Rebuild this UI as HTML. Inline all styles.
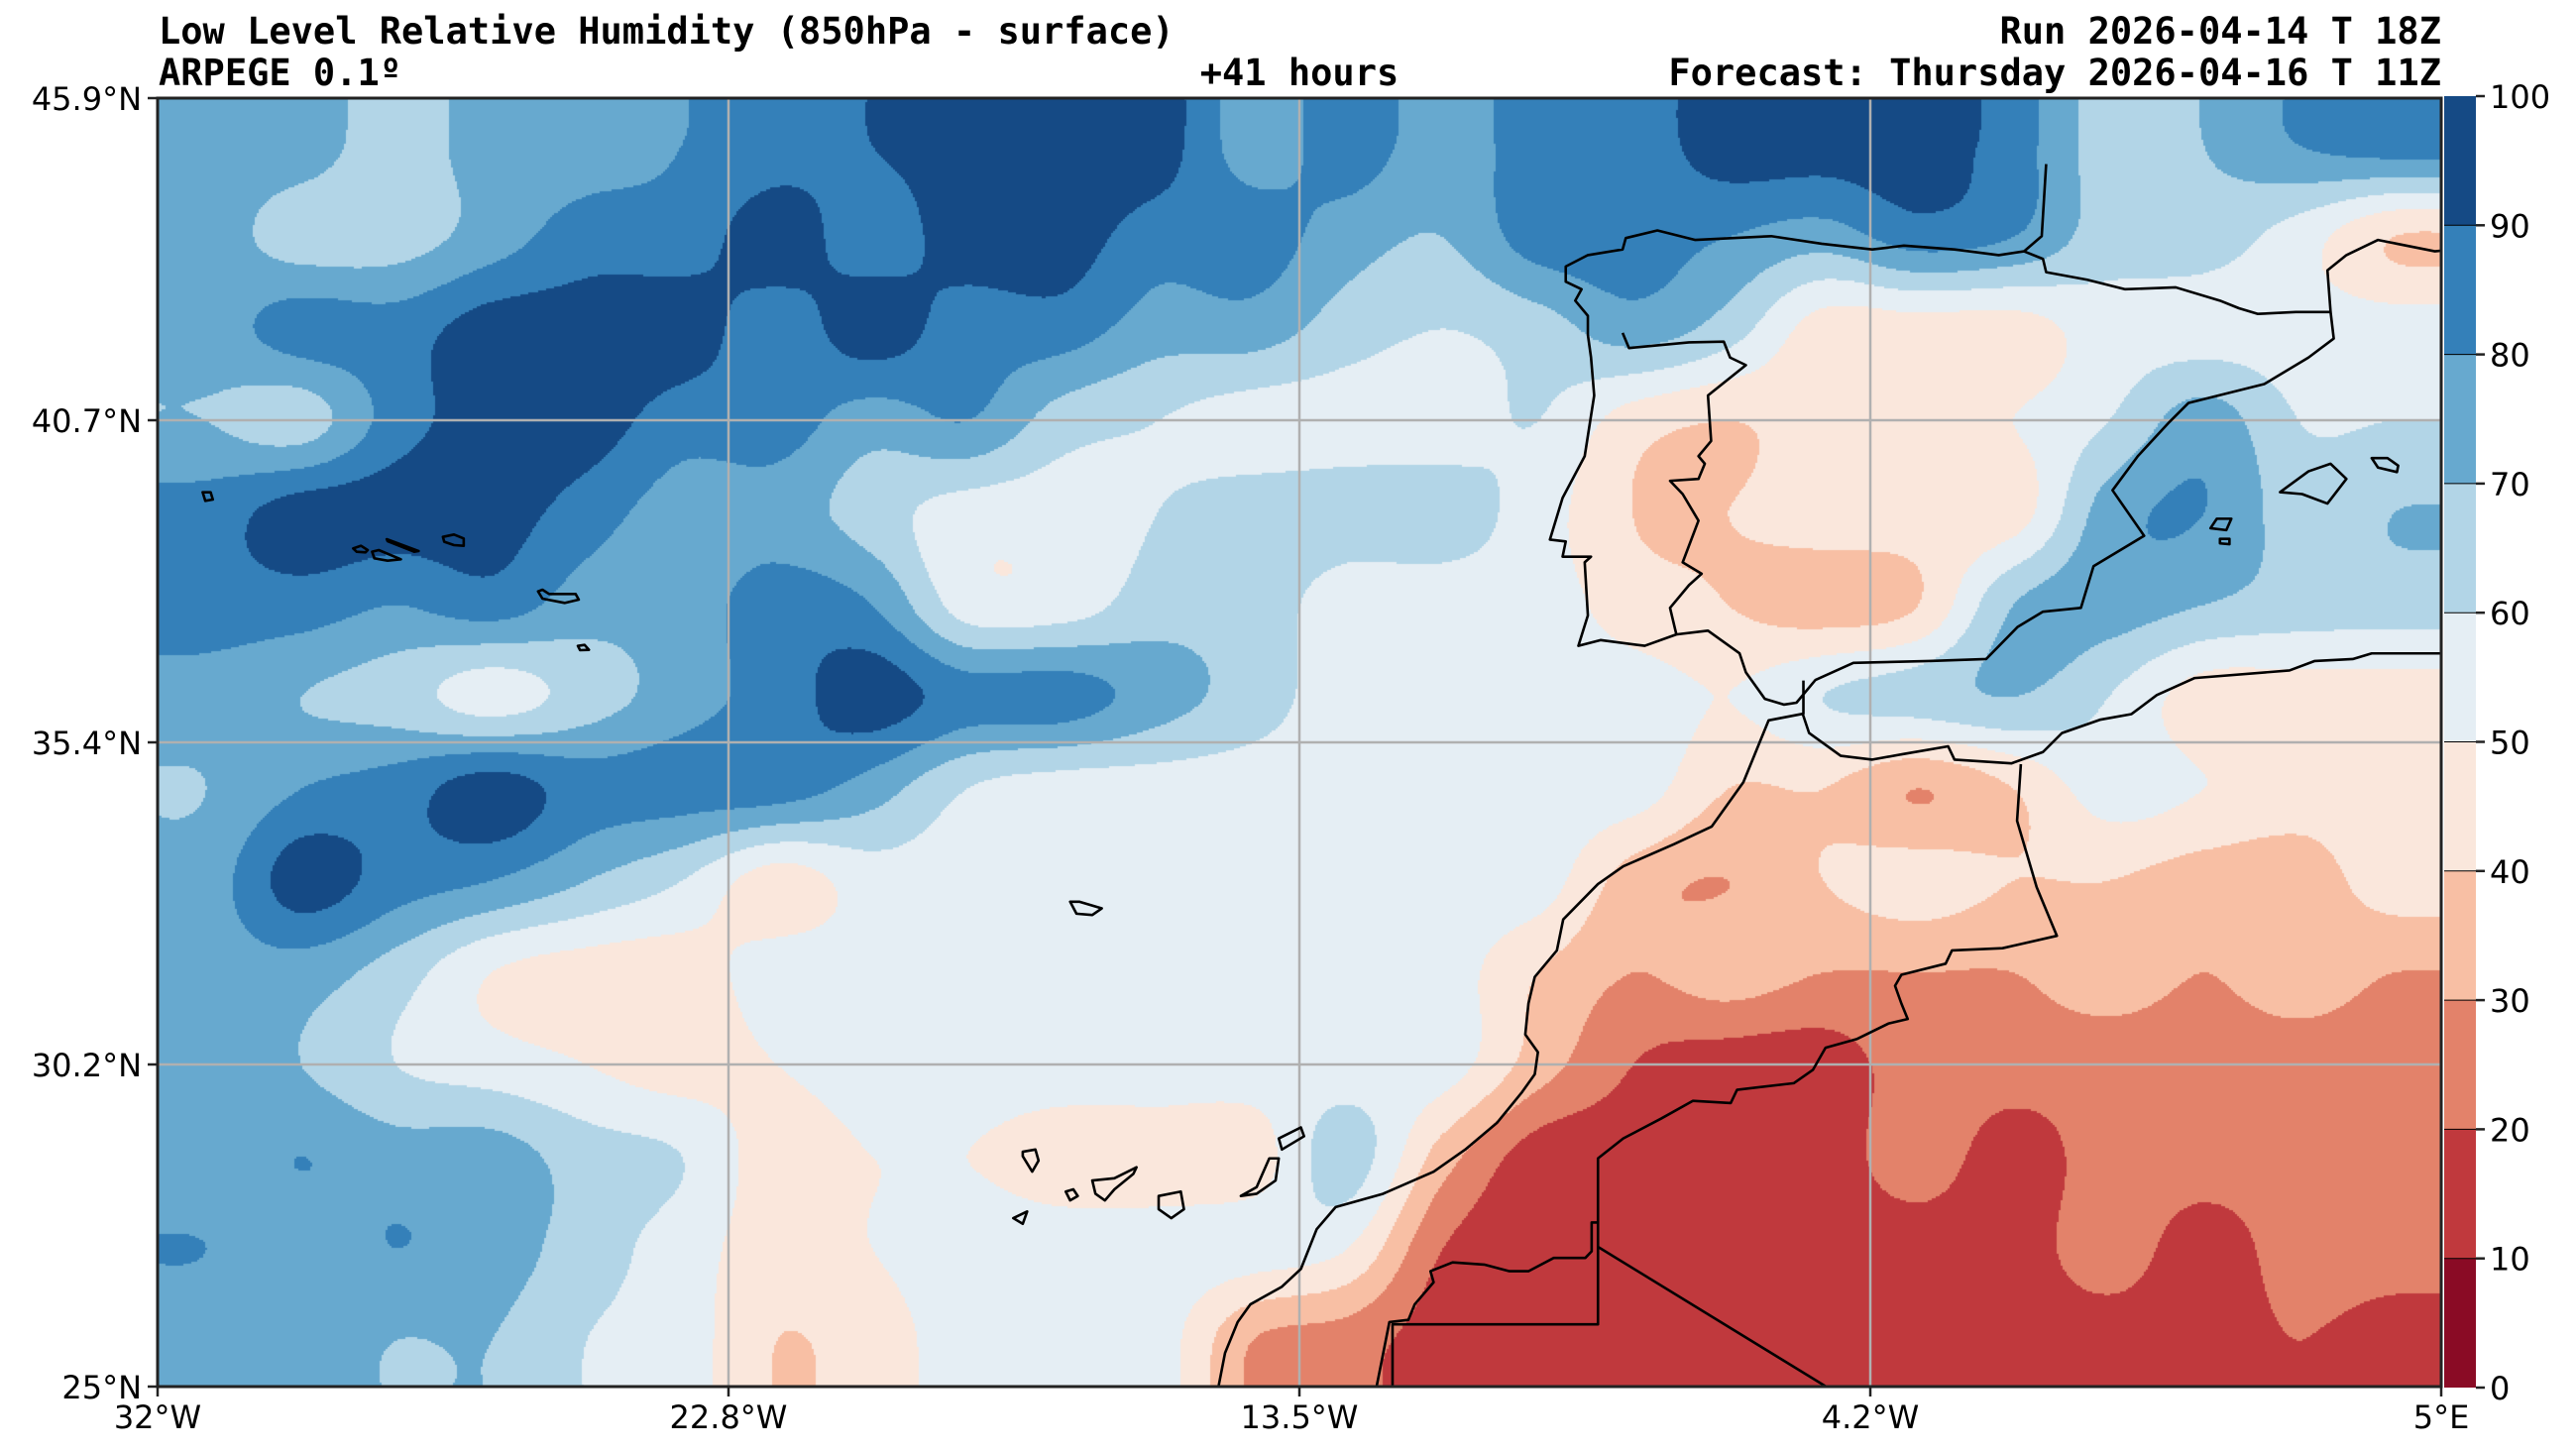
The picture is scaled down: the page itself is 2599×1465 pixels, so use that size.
<!DOCTYPE html>
<html><head><meta charset="utf-8">
<style>
html,body{margin:0;padding:0;background:#fff;}
#wrap{position:relative;width:2599px;height:1465px;overflow:hidden;background:#fff;}
.t{position:absolute;font-family:"DejaVu Sans Mono","Liberation Mono",monospace;font-weight:bold;font-size:37px;color:#000;white-space:nowrap;line-height:1;}
#map{position:absolute;left:159px;top:99px;}
svg{position:absolute;left:0;top:0;}
</style></head>
<body>
<div id="wrap">
<div class="t" style="left:160px;top:13px;">Low Level Relative Humidity (850hPa - surface)</div>
<div class="t" style="left:160px;top:55px;">ARPEGE 0.1º</div>
<div class="t" style="left:1311px;top:55px;transform:translateX(-50%);">+41 hours</div>
<div class="t" style="right:136px;top:13px;">Run 2026-04-14 T 18Z</div>
<div class="t" style="right:136px;top:55px;">Forecast: Thursday 2026-04-16 T 11Z</div>
<canvas id="map" width="2304" height="1300"></canvas>
<svg id="ov" width="2599" height="1465"></svg>
</div>
<script>
// Relative humidity (%) sampled on a coarse grid (rows north->south, cols west->east)
const rhRow0=[75,75,65,75,75,80,85,90,95,95,95,75,85,75,85,85,95,95,95,85,65,70,80,85];
const rhRow1=[75,65,65,75,85,85,95,85,95,95,85,85,75,70,85,85,80,75,85,80,65,65,55,40];
const rhRow2=[75,85,85,95,95,95,85,95,85,85,75,75,65,60,65,75,65,45,45,45,55,55,55,55];
const rhRow3=[70,65,85,95,95,85,85,75,80,65,60,55,55,55,60,45,40,45,45,50,60,75,60,60];
const rhRow4=[85,95,95,95,85,75,75,65,55,55,60,65,65,65,55,40,40,45,45,45,75,80,65,70];
const rhRow5=[85,85,80,85,75,75,85,80,55,55,65,65,55,55,55,45,40,35,40,70,75,70,65,65];
const rhRow6=[75,70,65,55,65,75,85,95,85,85,75,65,55,55,55,55,50,60,65,70,60,45,45,45];
const rhRow7=[70,80,85,95,85,85,85,75,60,55,55,55,55,55,55,55,40,40,30,40,55,50,45,45];
const rhRow8=[75,95,85,80,70,60,45,55,55,55,55,55,55,55,55,35,30,40,45,40,40,35,35,45];
const rhRow9=[75,75,65,50,45,45,55,55,55,55,55,55,55,55,40,30,35,30,30,30,35,30,35,30];
const rhRow10=[75,70,60,55,50,45,50,55,55,55,55,55,55,55,35,20,15,15,25,25,25,25,25,25];
const rhRow11=[75,80,75,75,65,60,45,50,50,45,45,45,65,35,15,15,15,15,25,15,25,25,25,25];
const rhRow12=[80,75,80,75,65,55,45,50,55,55,55,55,50,20,15,15,15,15,15,15,25,15,25,25];
const rhRow13=[75,75,70,70,60,55,40,45,55,55,55,30,25,15,15,15,15,15,15,15,15,15,20,15];
const rhGrid=[rhRow0,rhRow1,rhRow2,rhRow3,rhRow4,rhRow5,rhRow6,rhRow7,rhRow8,rhRow9,rhRow10,rhRow11,rhRow12,rhRow13];
const levels=[0,10,20,30,40,50,60,70,80,90,100];
const bandColors=["#8a0b25","#c0393d","#e3826a","#f8bfa4","#fae7dc","#e5eef4","#b2d5e7","#67a9cf","#3480b9","#154a85"];
const lonTicks=["32°W","22.8°W","13.5°W","4.2°W","5°E"];
const latTicks=["45.9°N","40.7°N","35.4°N","30.2°N","25°N"];

const MX=159,MY=99,MW=2304,MH=1300;
const NS="http://www.w3.org/2000/svg";
function rgb(h){return [parseInt(h.substr(1,2),16),parseInt(h.substr(3,2),16),parseInt(h.substr(5,2),16)];}
const bandRGB=bandColors.map(rgb);
function cr(p0,p1,p2,p3,t){return 0.5*((2*p1)+(-p0+p2)*t+(2*p0-5*p1+4*p2-p3)*t*t+(-p0+3*p1-3*p2+p3)*t*t*t);}
function gv(i,j){const R=rhGrid.length,C=rhGrid[0].length;i=Math.max(0,Math.min(C-1,i));j=Math.max(0,Math.min(R-1,j));return rhGrid[j][i];}
function field(gi,gj){
  const i=Math.floor(gi),j=Math.floor(gj);const fx=gi-i,fy=gj-j;
  const rows=[];
  for(let m=-1;m<=2;m++){rows.push(cr(gv(i-1,j+m),gv(i,j+m),gv(i+1,j+m),gv(i+2,j+m),fx));}
  return cr(rows[0],rows[1],rows[2],rows[3],fy);
}
(function(){
  const cv=document.getElementById('map');const ctx=cv.getContext('2d');
  const img=ctx.createImageData(MW,MH);const S=2;
  for(let py=0;py<MH;py+=S){
    const yd=59+py*786/MH;const gj=(yd-87)/56.1;
    for(let px=0;px<MW;px+=S){
      const xd=96+px*1390/MW;const gi=(xd-125)/57.9;
      let v=field(gi,gj);
      let k=Math.floor(v/10);k=Math.max(0,Math.min(9,k));
      const c=bandRGB[k];
      for(let yy=0;yy<S;yy++)for(let xx=0;xx<S;xx++){
        const o=((py+yy)*MW+(px+xx))*4;img.data[o]=c[0];img.data[o+1]=c[1];img.data[o+2]=c[2];img.data[o+3]=255;}
    }
  }
  ctx.putImageData(img,0,0);
})();

const ov=document.getElementById('ov');
function mk(tag,attrs,parent){const e=document.createElementNS(NS,tag);for(const k in attrs)e.setAttribute(k,attrs[k]);(parent||ov).appendChild(e);return e;}
function lonX(i){return MX+i*MW/4;}
function latY(i){return MY+i*MH/4;}
for(let i=1;i<4;i++){
  const g1=mk('line',{x1:lonX(i),y1:MY,x2:lonX(i),y2:MY+MH,stroke:'#b0b0b0','stroke-width':2.5});
  
  
  const g2=mk('line',{x1:MX,y1:latY(i),x2:MX+MW,y2:latY(i),stroke:'#b0b0b0','stroke-width':2.5});
  
  
}
function frame(tx,ty,sx,sy,name){const g=mk('g',{transform:`translate(${tx},${ty}) scale(${sx},${sy})`});return g;}
function path(g,pts,closed,name){
  const d='M'+pts.map(p=>p.join(',')).join(' L')+(closed?' Z':'');
  const p=mk('path',{d:d,fill:'none',stroke:'#000','stroke-width':2.6,'vector-effect':'non-scaling-stroke','stroke-linejoin':'round'},g);
  
  
}
const clip=mk('clipPath',{id:'mc'});mk('rect',{x:MX,y:MY,width:MW,height:MH},clip);
const root=mk('g',{'clip-path':'url(#mc)'});
const gI=frame(1500,200,1/1.568,1/2.613,'iberia-coast');root.appendChild(gI);
path(gI,[[885,-90],[878,100],[850,140],[810,150],[740,135],[660,125],[610,135],[530,120],[450,100],[330,110],[270,85],[220,105],[215,135],[160,150],[125,180],[125,220],[150,240],[140,270],[160,310],[160,360],[165,420],[170,520],[155,680],[120,790],[100,900],[125,905],[120,945],[165,945],[155,960],[160,1100],[145,1180],[180,1165],[250,1180],[300,1150],[350,1140],[400,1200],[410,1250],[440,1320],[470,1335],[490,1330],[520,1270],[580,1225],[700,1220],[790,1215],[840,1130],[880,1090],[940,1080],[960,970],[1040,890],[990,770],[1030,680],[1080,590],[1110,540],[1230,490],[1300,420],[1340,370],[1335,300],[1330,190],[1360,150],[1410,110],[1440,120],[1500,140],[1560,130]],false,'iberia-coastline');
path(gI,[[850,140],[880,160],[885,195],[950,215],[1010,240],[1090,235],[1160,270],[1190,290],[1220,305],[1280,300],[1335,300]],false,'pyrenees-border');
path(gI,[[215,355],[225,395],[320,380],[375,378],[385,420],[410,440],[350,520],[355,640],[335,680],[345,700],[335,740],[290,745],[310,780],[335,850],[310,960],[340,990],[320,1020],[290,1080],[300,1150]],false,'portugal-spain-border');
path(gI,[[1255,775],[1300,720],[1335,700],[1360,740],[1330,805],[1290,780]],true,'mallorca');
path(gI,[[1400,685],[1425,685],[1442,705],[1440,722],[1410,710]],true,'menorca');
path(gI,[[1145,870],[1155,845],[1178,845],[1170,875]],true,'ibiza');
path(gI,[[1160,898],[1175,898],[1175,912],[1160,910]],true,'formentera');
path(gI,[[500,1360],[510,1410],[560,1470],[610,1480],[660,1465],[730,1445],[740,1480],[830,1490],[880,1460],[910,1410],[970,1375],[1020,1360],[1060,1310],[1120,1265],[1270,1245],[1310,1220],[1370,1215],[1400,1200],[1560,1200]],false,'north-africa-coast');
const gA=frame(1000,700,1/1.568,1/2.24,'africa-coast');root.appendChild(gA);
path(gA,[[1285,-30],[1285,45],[1230,60],[1210,130],[1190,200],[1140,300],[1080,340],[1000,390],[960,430],[905,510],[895,580],[860,640],[850,700],[845,770],[865,810],[860,860],[840,900],[800,970],[750,1030],[700,1080],[620,1130],[545,1160],[515,1210],[490,1300],[460,1340],[410,1380],[390,1420],[370,1490],[355,1600]],false,'atlantic-africa-coastline');
path(gA,[[1629,159],[1623,287],[1654,437],[1686,547],[1600,575],[1520,580],[1510,610],[1440,635],[1430,660],[1440,700],[1450,735],[1420,745],[1370,780],[1320,800],[1300,850],[1270,880],[1180,895],[1170,925],[1110,920],[1060,960],[1000,1005],[960,1050],[960,1425],[635,1425],[635,1600]],false,'morocco-algeria-border');
path(gA,[[960,1250],[1360,1600]],false,'algeria-mauritania-border');
path(gA,[[960,1195],[950,1195],[950,1260],[940,1275],[890,1275],[850,1305],[820,1305],[780,1290],[730,1285],[695,1305],[700,1330],[670,1380],[660,1415],[630,1420],[605,1600]],false,'western-sahara-border');
path(gA,[[455,1005],[490,980],[495,1000],[460,1030]],true,'lanzarote');
path(gA,[[440,1050],[455,1050],[450,1100],[420,1130],[395,1135],[420,1115]],true,'fuerteventura');
path(gA,[[265,1135],[300,1125],[305,1165],[285,1185],[265,1165]],true,'gran-canaria');
path(gA,[[160,1100],[195,1095],[230,1070],[225,1085],[195,1120],[180,1145],[165,1130]],true,'tenerife');
path(gA,[[118,1125],[130,1120],[137,1135],[125,1145]],true,'la-gomera');
path(gA,[[50,1035],[70,1030],[75,1055],[65,1080],[50,1045]],true,'la-palma');
path(gA,[[35,1185],[57,1170],[50,1198]],true,'el-hierro');
path(gA,[[125,470],[140,470],[175,485],[160,500],[135,497]],true,'madeira');
const gZ=frame(150,400,1/2.24,1/3,'azores');root.appendChild(gZ);
path(gZ,[[122,290],[140,290],[145,312],[128,316]],true,'flores');
path(gZ,[[462,460],[480,452],[495,465],[490,472],[470,470]],true,'faial');
path(gZ,[[505,470],[520,465],[570,493],[540,497],[510,490]],true,'pico');
path(gZ,[[538,432],[610,468],[600,470],[540,438]],true,'sao-jorge');
path(gZ,[[665,425],[690,418],[712,430],[712,452],[690,450],[668,440]],true,'terceira');
path(gZ,[[880,590],[890,585],[905,598],[965,598],[972,615],[940,625],[890,612]],true,'sao-miguel');
path(gZ,[[970,755],[985,752],[995,767],[975,768]],true,'santa-maria');
const fr=mk('rect',{x:MX,y:MY,width:MW,height:MH,fill:'none',stroke:'#222','stroke-width':3});


lonTicks.forEach((t,i)=>{
  const x=lonX(i);
  const tk=mk('line',{x1:x,y1:MY+MH,x2:x,y2:MY+MH+10,stroke:'#222','stroke-width':2.5});
  
  
  const tx=mk('text',{x:x,y:MY+MH+42,'text-anchor':'middle','font-family':'"DejaVu Sans","Liberation Sans",sans-serif','font-size':32});
  tx.textContent=t;
  
  
});
latTicks.forEach((t,i)=>{
  const y=latY(i);
  const tk=mk('line',{x1:MX-10,y1:y,x2:MX,y2:y,stroke:'#222','stroke-width':2.5});
  
  
  const tx=mk('text',{x:MX-16,y:y+12,'text-anchor':'end','font-family':'"DejaVu Sans","Liberation Sans",sans-serif','font-size':32});
  tx.textContent=t;
  
  
});
const CBX=2466,CBW=32,CBT=97,CBB=1400;
function cbY(v){return CBB-(v-levels[0])/(levels[levels.length-1]-levels[0])*(CBB-CBT);}
bandColors.forEach((c,k)=>{
  const r=mk('rect',{x:CBX,y:cbY(levels[k+1]),width:CBW,height:cbY(levels[k])-cbY(levels[k+1]),fill:c});
  
  
});
levels.forEach(v=>{
  const y=cbY(v);
  if(v>0&&v<100){const l=mk('line',{x1:CBX,y1:y,x2:CBX+CBW,y2:y,stroke:'#000','stroke-width':1});}
  const tk=mk('line',{x1:CBX+CBW,y1:y,x2:CBX+CBW+9,y2:y,stroke:'#222','stroke-width':2.5});
  
  
  const tx=mk('text',{x:CBX+CBW+14,y:y+12,'font-family':'"DejaVu Sans","Liberation Sans",sans-serif','font-size':32});
  tx.textContent=String(v);
  
  
});
</script>
</body></html>
